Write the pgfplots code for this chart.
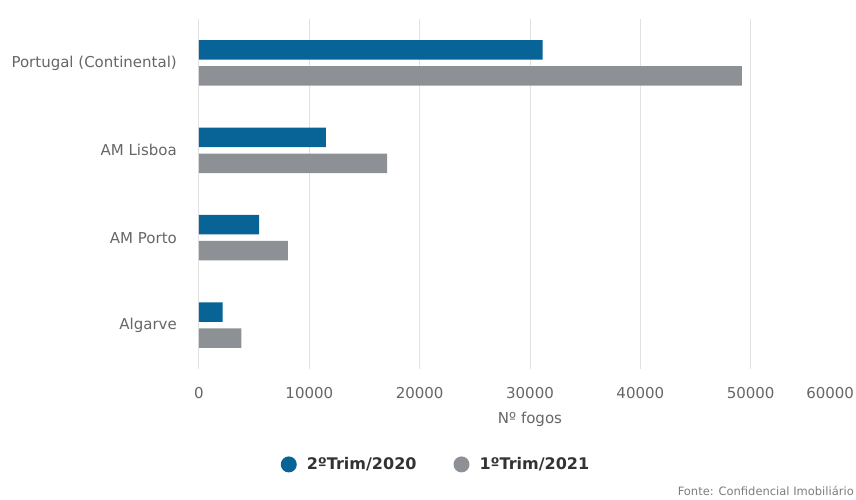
\documentclass[border=0pt]{standalone}
\usepackage{fontspec}
\setmainfont{DejaVu Sans}
\usepackage{pgfplots}
\pgfplotsset{compat=1.18}
\definecolor{trimblue}{RGB}{8,99,150}
\definecolor{trimgray}{RGB}{141,144,148}
\definecolor{labelgray}{RGB}{102,102,102}
\definecolor{legendtext}{RGB}{51,51,51}
\definecolor{gridgray}{RGB}{226,226,226}

\begin{document}
\begin{tikzpicture}[x=1pt,y=1pt]
\useasboundingbox (0,0) rectangle (856,500);
\begin{axis}[
  at={(199pt,131.3pt)}, anchor=south west,
  scale only axis, width=662pt, height=349.4pt,
  xbar, bar width=19.5pt,
  xmin=0, xmax=60000, ymin=-0.5, ymax=3.5,
  scaled x ticks=false,
  axis line style={draw=none},
  major tick length=0pt,
  xmajorgrids, grid style={gridgray, line width=1pt},
  xtick={0,10000,...,60000},
  xticklabels={0,10000,20000,30000,40000,50000,\makebox[0pt][r]{60000\hspace{7pt}}},
  ytick={0,1,2,3},
  yticklabels={Algarve, AM Porto, AM Lisboa, Portugal (Continental)},
  yticklabel style={inner sep=0pt, anchor=east, xshift=-22pt,
    font=\fontsize{15}{18}\selectfont, text=labelgray},
  xticklabel style={inner sep=0pt, anchor=north, yshift=-18pt,
    font=\fontsize{15}{18}\selectfont, text=labelgray},
  xlabel={Nº fogos},
  xlabel style={at={(axis description cs:0.5,0)}, anchor=north, inner sep=0pt,
    yshift=-43pt, font=\fontsize{15}{18}\selectfont, text=labelgray},
  legend image code/.code={%
    \path[draw=none, fill=none] (-8pt,-8pt) rectangle (18pt,8pt);
    \fill[#1] (0pt,0pt) circle (8pt);},
  legend style={at={(0.3565,-0.274)}, anchor=center, draw=none, fill=none,
    legend columns=2, inner sep=0pt,
    nodes={inner sep=0pt},
    font=\bfseries\fontsize{16}{19}\selectfont, text=legendtext,
    /tikz/every odd column/.append style={column sep=0pt},
    /tikz/every even column/.append style={column sep=37pt}},
]
\addplot[fill=trimblue, draw=none, bar shift=13pt]
  coordinates {(31150,3) (11500,2) (5450,1) (2150,0)};
\addplot[fill=trimgray, draw=none, bar shift=-13pt]
  coordinates {(49200,3) (17050,2) (8050,1) (3850,0)};
\legend{2ºTrim/2020, 1ºTrim/2021}
\end{axis}
\node[anchor=east, inner sep=0pt, font=\fontsize{11.5}{13}\selectfont, text=labelgray!85]
  at (854,9) {Fonte: Confidencial Imobiliário};
\end{tikzpicture}
\end{document}
